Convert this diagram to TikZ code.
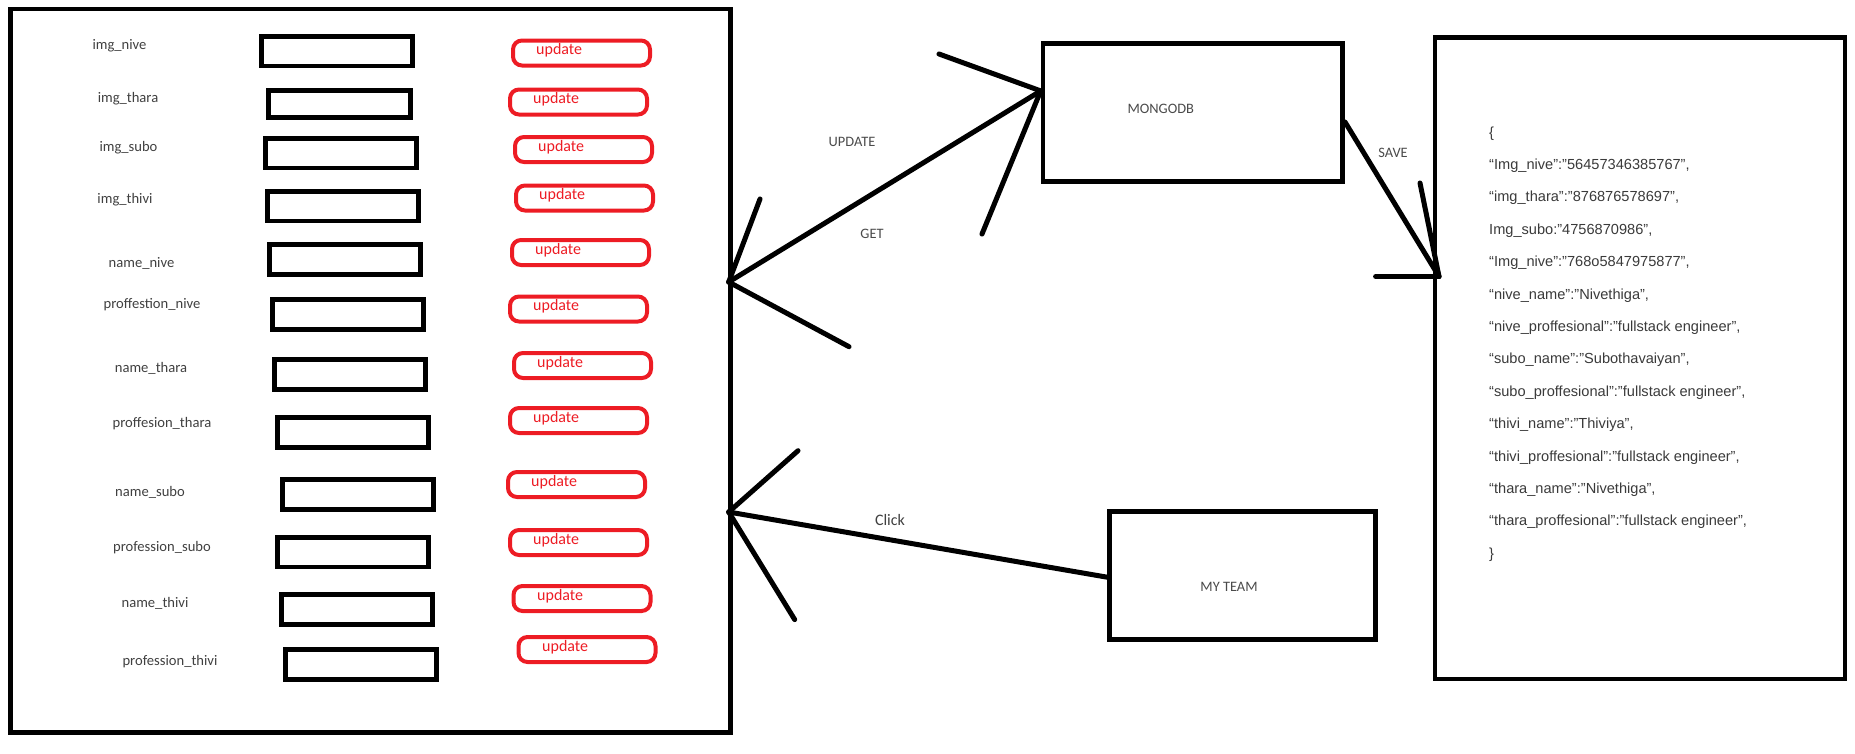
\documentclass[tikz,border=0pt]{standalone}
\usepackage{fontspec}
\setmainfont{Carlito}
\newfontfamily\arialfont{Liberation Sans}
\definecolor{paintred}{HTML}{ED1C24}
\definecolor{txtgray}{HTML}{404040}
\definecolor{capgray}{HTML}{4A4A4A}
\definecolor{jsongray}{HTML}{3A3A3A}
\tikzset{
  bigbox/.style={draw=black, line width=4.8pt, inner sep=0pt},
  field/.style={draw=black, line width=4.6pt, minimum width=151.4pt, minimum height=29.6pt, inner sep=0pt},
  updbox/.style={draw=paintred, line width=4pt, rounded corners=9pt, minimum width=137pt, minimum height=25pt, inner sep=0pt},
  lbl/.style={text=txtgray, font=\fontsize{14.6}{17}\selectfont, inner sep=0pt},
  caplbl/.style={text=capgray, font=\fontsize{14.4}{17}\selectfont, inner sep=0pt},
  updtxt/.style={text=paintred, font=\fontsize{16}{19}\selectfont, inner sep=0pt, anchor=base west},
  json/.style={text=jsongray, font=\arialfont\fontsize{14.6}{17}\selectfont, inner sep=0pt, anchor=base west},
  conn/.style={draw=black, line width=5pt, line cap=round}
}
\begin{document}
\begin{tikzpicture}[x=1pt,y=-1pt]
\useasboundingbox (0,0) rectangle (1855,753);
% main boxes
\node[bigbox, minimum width=719.6pt, minimum height=723.5pt] (form) at (370.5,370.75) {};
\node[bigbox, minimum width=299.4pt, minimum height=138.3pt] (mongo) at (1192.7,112.65) {};
\node[bigbox, minimum width=266pt, minimum height=128.2pt] (team) at (1242.5,575.6) {};
\node[bigbox, minimum width=410pt, minimum height=641.2pt] (doc) at (1640,358.4) {};
% field labels
\node[lbl] (l1) at (119.5,46) {img\_nive};
\node[lbl] (l2) at (128,99) {img\_thara};
\node[lbl] (l3) at (128.5,148) {img\_subo};
\node[lbl] (l4) at (125,200) {img\_thivi};
\node[lbl] (l5) at (141.5,263) {name\_nive};
\node[lbl] (l6) at (152,305) {proffestion\_nive};
\node[lbl] (l7) at (151,368) {name\_thara};
\node[lbl] (l8) at (162,424) {proffesion\_thara};
\node[lbl] (l9) at (150,492) {name\_subo};
\node[lbl] (l10) at (162,548) {profession\_subo};
\node[lbl] (l11) at (155,603) {name\_thivi};
\node[lbl] (l12) at (170,662) {profession\_thivi};
% input fields
\node[field] (f1) at (337,51.2) {};
\node[field, minimum width=142.4pt, minimum height=27.4pt] (f2) at (339.5,104) {};
\node[field] (f3) at (341,153) {};
\node[field] (f4) at (343,206) {};
\node[field] (f5) at (345,259.5) {};
\node[field] (f6) at (348,314.5) {};
\node[field] (f7) at (350,374.5) {};
\node[field] (f8) at (353,432.5) {};
\node[field] (f9) at (358,494.5) {};
\node[field] (f10) at (353,552) {};
\node[field] (f11) at (357,609.5) {};
\node[field] (f12) at (361,664.5) {};
% update buttons
\node[updbox] (u1) at (581.5,53) {};
\node[updbox] (u2) at (578.5,102) {};
\node[updbox] (u3) at (583.5,149.5) {};
\node[updbox] (u4) at (584.5,198) {};
\node[updbox] (u5) at (580.5,252.5) {};
\node[updbox] (u6) at (578.5,309) {};
\node[updbox] (u7) at (582.5,365.5) {};
\node[updbox] (u8) at (578.5,420.5) {};
\node[updbox] (u9) at (576.5,484.5) {};
\node[updbox] (u10) at (578.5,542.5) {};
\node[updbox] (u11) at (582,598.5) {};
\node[updbox] (u12) at (587,649.5) {};
\node[updtxt] (t1) at (536,54.5) {update};
\node[updtxt] (t2) at (533,103.5) {update};
\node[updtxt] (t3) at (538,151) {update};
\node[updtxt] (t4) at (539,199.5) {update};
\node[updtxt] (t5) at (535,254) {update};
\node[updtxt] (t6) at (533,310.5) {update};
\node[updtxt] (t7) at (537,367) {update};
\node[updtxt] (t8) at (533,422) {update};
\node[updtxt] (t9) at (531,486) {update};
\node[updtxt] (t10) at (533,544) {update};
\node[updtxt] (t11) at (537,600) {update};
\node[updtxt] (t12) at (542,651) {update};
% box texts
\node[caplbl] (mongotxt) at (1160.8,109) {MONGODB};
\node[caplbl] (teamtxt) at (1229,587) {MY TEAM};
% connector labels
\node[caplbl] (lupd) at (852,142) {UPDATE};
\node[caplbl] (lget) at (872,234) {GET};
\node[caplbl] (lsave) at (1393,153) {SAVE};
\node[lbl, font=\fontsize{16}{19}\selectfont] (lclick) at (890,519.6) {Click};
% JSON document
\node[json] (j0) at (1489,137) {\{};
\node[json] (j1) at (1489,169.4) {“Img\_nive”:”56457346385767”,};
\node[json] (j2) at (1489,201.8) {“img\_thara”:”876876578697”,};
\node[json] (j3) at (1489,234.2) {Img\_subo:”4756870986”,};
\node[json] (j4) at (1489,266.6) {“Img\_nive”:”768o5847975877”,};
\node[json] (j5) at (1489,299) {“nive\_name”:”Nivethiga”,};
\node[json] (j6) at (1489,331.4) {“nive\_proffesional”:”fullstack engineer”,};
\node[json] (j7) at (1489,363.8) {“subo\_name”:”Subothavaiyan”,};
\node[json] (j8) at (1489,396.2) {“subo\_proffesional”:”fullstack engineer”,};
\node[json] (j9) at (1489,428.6) {“thivi\_name”:”Thiviya”,};
\node[json] (j10) at (1489,461) {“thivi\_proffesional”:”fullstack engineer”,};
\node[json] (j11) at (1489,493.4) {“thara\_name”:”Nivethiga”,};
\node[json] (j12) at (1489,525.8) {“thara\_proffesional”:”fullstack engineer”,};
\node[json] (j13) at (1489,558.2) {\}};
% connector end points
\coordinate (aL) at (728.7,282);
\coordinate (aM) at (1040.7,90.9);
\coordinate (hL1) at (760,199);
\coordinate (hL2) at (849,346.7);
\coordinate (hM1) at (939,54);
\coordinate (hM2) at (982,234);
\coordinate (sS) at (1345,122);
\coordinate (sT) at (1439,276.5);
\coordinate (hS1) at (1420,183);
\coordinate (hS2) at (1375.6,276.5);
\coordinate (cT) at (728.7,512);
\coordinate (cS) at (1109,577.5);
\coordinate (hC1) at (798,450.7);
\coordinate (hC2) at (794.7,619.6);
% UPDATE / GET double arrow
\draw[conn] (aL) -- (aM);
\draw[conn] (aL) -- (hL1);
\draw[conn] (aL) -- (hL2);
\draw[conn] (aM) -- (hM1);
\draw[conn] (aM) -- (hM2);
% SAVE arrow
\draw[conn] (sS) -- (sT);
\draw[conn] (sT) -- (hS1);
\draw[conn] (sT) -- (hS2);
% Click arrow
\draw[conn] (cS) -- (cT);
\draw[conn] (cT) -- (hC1);
\draw[conn] (cT) -- (hC2);
\end{tikzpicture}
\end{document}
